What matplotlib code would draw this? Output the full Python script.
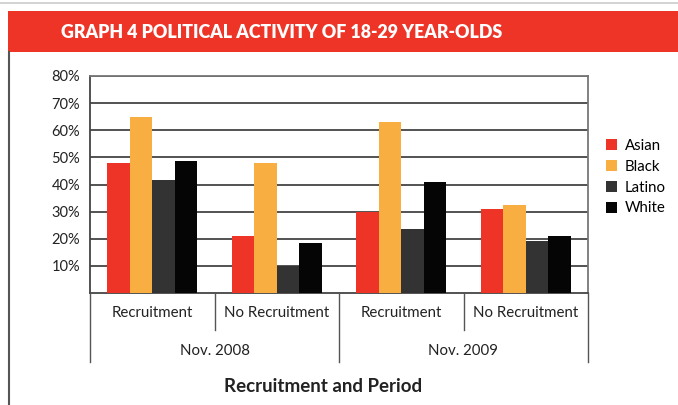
import matplotlib
matplotlib.use("Agg")
import matplotlib.pyplot as plt
from matplotlib.lines import Line2D
from matplotlib.patches import Rectangle
import matplotlib.transforms as mtransforms
import numpy as np

plt.rcParams['font.family'] = ['Lato', 'DejaVu Sans']

# Data
periods = ["Nov. 2008", "Nov. 2009"]
conditions = ["Recruitment", "No Recruitment", "Recruitment", "No Recruitment"]
groups = ["Asian", "Black", "Latino", "White"]
asian = [48, 21, 30, 31]
black = [65, 48, 63, 32.5]
latino = [41.5, 10, 23.5, 19]
white = [48.5, 18.5, 41, 21]
yticks = [10, 20, 30, 40, 50, 60, 70, 80]
colors = ["#EE3427", "#F9AE42", "#333333", "#050505"]

W, H = 678, 405
fig = plt.figure(figsize=(W / 100, H / 100), dpi=100)

def fx(px):
    return px / W

def fy(py):
    return 1 - py / H

# Header band and page frame
fig.add_artist(Line2D([0, 1], [fy(3), fy(3)], color="#cccccc", lw=1.2))
fig.add_artist(Rectangle((fx(8), fy(52)), 1 - fx(8), fy(11) - fy(52),
                         transform=fig.transFigure, color="#EE3427", lw=0))
fig.add_artist(Line2D([fx(9), fx(9)], [fy(52), 0], color="#555555", lw=1.5))
fig.text(fx(61), fy(33), "GRAPH 4 POLITICAL ACTIVITY OF 18-29 YEAR-OLDS",
         color="white", fontsize=12.8, fontweight="heavy", va="center", ha="left")

# Plot area
ax = fig.add_axes([fx(90), fy(293), fx(588) - fx(90), fy(76) - fy(293)])
x = np.arange(len(conditions))
bw = 0.18
series = [asian, black, latino, white]
for i, (vals, c, name) in enumerate(zip(series, colors, groups)):
    ax.bar(x + (i - 1.5) * bw, vals, width=bw, color=c, label=name, lw=0, zorder=3)

ax.set_xlim(-0.5, 3.5)
ax.set_ylim(0, 80)
ax.set_yticks(yticks)
ax.set_yticklabels([f"{t}%" for t in yticks], fontsize=10.5, color="#222222")
ax.tick_params(axis="y", length=0, pad=7)
ax.set_xticks([])
ax.grid(axis="y", color="#444444", lw=1.3, zorder=1)
for s in ["top", "right"]:
    ax.spines[s].set_color("#777777")
    ax.spines[s].set_linewidth(1.3)
ax.spines["left"].set_color("#444444")
ax.spines["bottom"].set_color("#444444")
ax.spines["left"].set_linewidth(1.3)
ax.spines["bottom"].set_linewidth(1.3)

# Two-level category axis
tr = mtransforms.blended_transform_factory(ax.transData, fig.transFigure)
for xv, bottom in [(-0.5, 362), (0.5, 330), (1.5, 362), (2.5, 330), (3.5, 362)]:
    fig.add_artist(Line2D([xv, xv], [fy(293), fy(bottom)], transform=tr,
                          color="#555555", lw=1.0))
for xv, lab in zip(x, conditions):
    fig.text(xv, fy(313), lab, transform=tr, ha="center", va="center",
             fontsize=10.8, color="#222222")
for k, lab in enumerate(periods):
    fig.text(2 * k + 0.5, fy(351), lab, transform=tr, ha="center", va="center",
             fontsize=10.8, color="#222222")
fig.text(fx(323), fy(387), "Recruitment and Period", ha="center", va="center",
         fontsize=13.5, fontweight="bold", color="#222222")

# Legend
fig.legend(loc="upper left", bbox_to_anchor=(fx(600), fy(133)), frameon=False,
           fontsize=10.8, handlelength=0.75, handleheight=0.75, handletextpad=0.5,
           labelspacing=0.45, borderaxespad=0)

fig.savefig("out.png", dpi=100)
